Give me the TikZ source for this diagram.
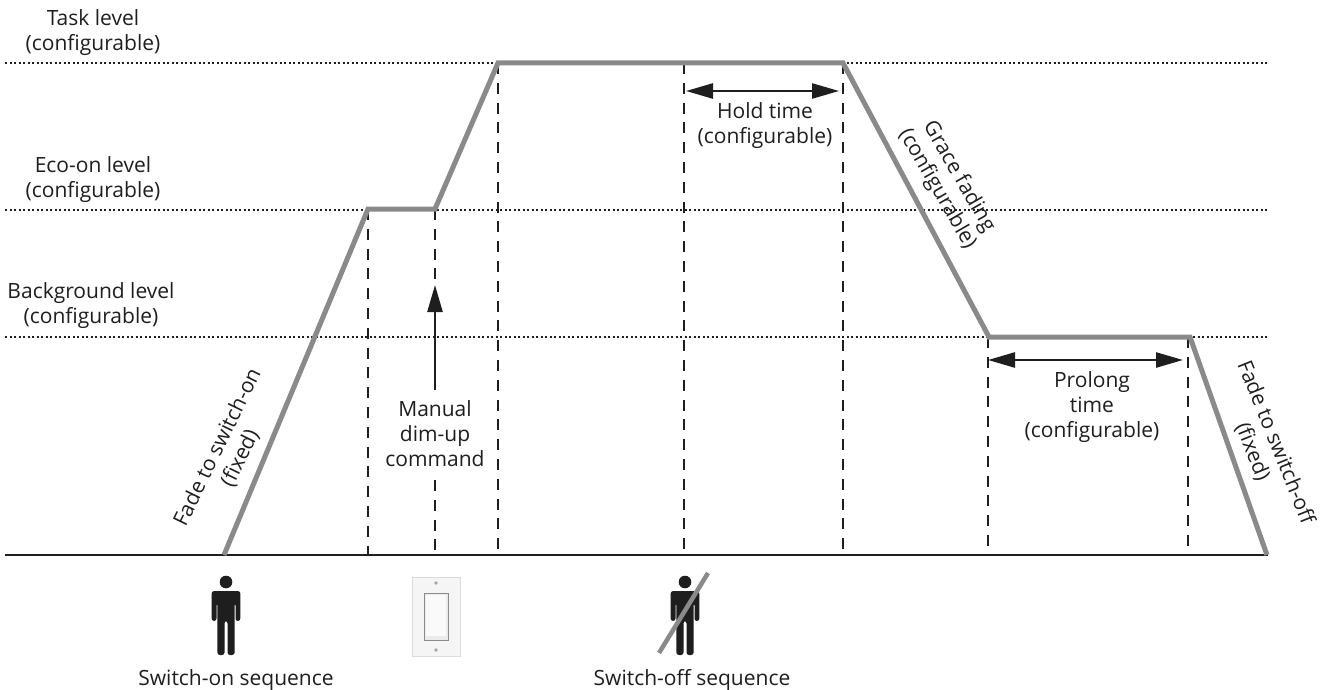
\documentclass[tikz,border=0pt]{standalone}
\usepackage{fontspec}
\setmainfont{Open Sans}
\usetikzlibrary{arrows.meta}
\definecolor{profilegray}{RGB}{138,138,138}
\definecolor{inkblack}{RGB}{30,30,30}
\tikzstyle{label}=[font=\fontsize{21}{25}\selectfont,text=inkblack,align=center,inner sep=0pt]
\tikzstyle{level}=[inkblack,line width=2pt,dash pattern=on 2.2pt off 2.3pt]
\tikzstyle{marker}=[inkblack,line width=2.6pt,dash pattern=on 11pt off 8.8pt]
\tikzstyle{profile}=[profilegray,line width=5pt,line join=miter]
\tikzstyle{span}=[inkblack,line width=2.5pt,{Triangle[length=27pt,width=15pt]}-{Triangle[length=27pt,width=15pt]}]
\tikzstyle{push}=[inkblack,line width=2.5pt,-{Triangle[length=27pt,width=15pt]}]
\newcommand{\tikzpicscale}{1pt}
\newcommand{\personicon}[1]{
    \fill[inkblack] (#1,582) circle (6.3);
    \fill[inkblack,rounded corners=2.5pt] (#1-14.3,621) -- (#1-14.3,591) -- (#1+14.3,591) -- (#1+14.3,621) -- (#1+9.5,621) -- (#1+9.5,603) -- (#1+8.6,603) -- (#1+8.6,655) -- (#1+1.5,655) -- (#1+1.5,621) -- (#1-1.5,621) -- (#1-1.5,655) -- (#1-8.6,655) -- (#1-8.6,603) -- (#1-9.5,603) -- (#1-9.5,621) -- cycle;
}

\begin{document}
\begin{tikzpicture}[x=\tikzpicscale,y=-\tikzpicscale]
    \useasboundingbox (0,0) rectangle (1322,690);
    % levels
    \coordinate (taskL) at (5,63);
    \coordinate (taskR) at (1268,63);
    \coordinate (ecoL) at (5,210);
    \coordinate (ecoR) at (1268,210);
    \coordinate (bgL) at (5,337);
    \coordinate (bgR) at (1268,337);
    \draw[level] (taskL) -- (taskR);
    \draw[level] (ecoL) -- (ecoR);
    \draw[level] (bgL) -- (bgR);
    % profile corners
    \coordinate (p0) at (224,555);
    \coordinate (p1) at (368,209);
    \coordinate (p2) at (435,209);
    \coordinate (p3) at (498,63);
    \coordinate (p4) at (684,63);
    \coordinate (p5) at (843,63);
    \coordinate (p6) at (989,337);
    \coordinate (p7) at (1190,337);
    \coordinate (p8) at (1267,555);
    % feet of the markers
    \coordinate (f1) at (368,555);
    \coordinate (f2) at (435,555);
    \coordinate (f3) at (498,555);
    \coordinate (f4) at (684,555);
    \coordinate (f5) at (843,555);
    \coordinate (f6) at (988,555);
    \coordinate (f7) at (1188,555);
    \coordinate (pushT) at (435,285);
    \coordinate (pushB) at (435,390);
    \coordinate (gapB) at (435,480);
    \draw[marker] (p1) -- (f1);
    \draw[marker] (p2) -- (pushT);
    \draw[marker] (gapB) -- (f2);
    \draw[marker] (p3) -- (f3);
    \draw[marker] (p4) -- (f4);
    \draw[marker] (p5) -- (f5);
    \draw[marker] (p6 -| f6) -- (f6);
    \draw[marker] (p7 -| f7) -- (f7);
    \coordinate (baseL) at (5,555);
    \coordinate (baseR) at (1268,555);
    \draw[inkblack,line width=2.5pt] (baseL) -- (baseR);
    \draw[profile] (p0) -- (p1) -- (p2) -- (p3) -- (p5) -- (p6) -- (p7) -- (p8);
    % arrows
    \draw[push] (pushB) -- (pushT);
    \coordinate (holdL) at (686,91);
    \coordinate (holdR) at (839,91);
    \draw[span] (holdL) -- (holdR);
    \coordinate (prolongL) at (988,360);
    \coordinate (prolongR) at (1183,360);
    \draw[span] (prolongL) -- (prolongR);
    % labels
    \node[label] (task) at (93,33) {Task level\\(configurable)};
    \node[label] (eco) at (93,180) {Eco-on level\\(configurable)};
    \node[label] (bg) at (91,306) {Background level\\(configurable)};
    \node[label] (manual) at (435,434) {Manual\\dim-up\\command};
    \node[label] (hold) at (765,126) {Hold time\\(configurable)};
    \node[label] (prolong) at (1092,407) {Prolong\\time\\(configurable)};
    \node[label,rotate=64] (fadeon) at (229,453) {Fade to switch-on\\(fixed)};
    \node[label,rotate=-60] (grace) at (948,183) {Grace fading\\(configurable)};
    \node[label,rotate=-68] (fadeoff) at (1264,447) {Fade to switch-off\\(fixed)};
    \node[label] (onseq) at (236,680) {Switch-on sequence};
    \node[label] (offseq) at (692,680) {Switch-off sequence};
    % icons
    \personicon{226}
    \personicon{685}
    \coordinate (slashB) at (659,653);
    \coordinate (slashT) at (708,573);
    \draw[profilegray,line width=4.5pt] (slashB) -- (slashT);
    % wall switch
    \fill[black!4,draw=black!14,line width=0.8pt] (412,577) rectangle (460,656);
    \fill[black!8,draw=black!45,line width=1pt] (424,593) rectangle (448,640);
    \fill[black!2] (426,595) rectangle (446,636);
    \fill[black!35] (436,583) circle (1.8);
    \fill[black!35] (436,650) circle (1.8);
\end{tikzpicture}
\end{document}
